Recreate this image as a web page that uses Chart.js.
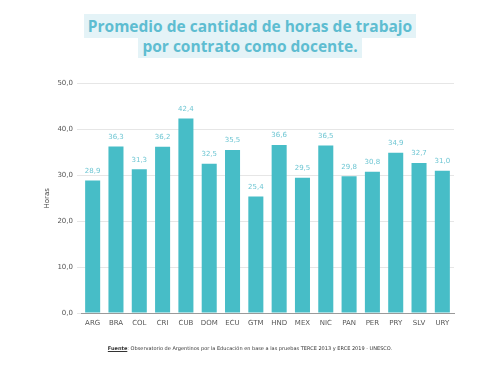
<!DOCTYPE html>
<html><head><meta charset="utf-8">
<script src="https://cdn.jsdelivr.net/npm/chart.js@4"></script>
<style>
html,body{margin:0;padding:0;background:#fff;width:500px;height:375px;overflow:hidden;}
#title{position:absolute;left:0;top:17px;width:500px;text-align:center;font-family:"Open Sans",sans-serif;font-weight:700;font-size:15.5px;line-height:19.5px;color:#5ebdd1;}
#title span{background:#e4f3f7;padding:1px 4px;box-decoration-break:clone;-webkit-box-decoration-break:clone;}
#foot{position:absolute;left:0;top:345px;width:500px;text-align:center;font-family:"DejaVu Sans",sans-serif;font-size:5px;color:#333;}
#foot b{text-decoration:underline;}
#wrap{position:absolute;left:0;top:0;width:500px;height:375px;}
</style></head><body>
<div id="wrap"><canvas id="c" width="500" height="375"></canvas></div>
<div id="title"><span>Promedio de cantidad de horas de trabajo<br>por contrato como docente.</span></div>
<div id="foot"><b>Fuente</b>: Observatorio de Argentinos por la Educación en base a las pruebas TERCE 2013 y ERCE 2019 - UNESCO.</div>
<script>
const categories = ["ARG","BRA","COL","CRI","CUB","DOM","ECU","GTM","HND","MEX","NIC","PAN","PER","PRY","SLV","URY"];
const horas = [28.9,36.3,31.3,36.2,42.4,32.5,35.5,25.4,36.6,29.5,36.5,29.8,30.8,34.9,32.7,31.0];
const yTicks = [0,10,20,30,40,50];

const fmt = v => v.toFixed(1).replace('.', ',');
const valueLabels = {
  id: 'valueLabels',
  afterDatasetsDraw(chart) {
    const ctx = chart.ctx;
    const meta = chart.getDatasetMeta(0);
    ctx.save();
    ctx.font = '7px "DejaVu Sans"';
    ctx.fillStyle = '#6ec6d3';
    ctx.textAlign = 'center';
    ctx.textBaseline = 'bottom';
    meta.data.forEach((bar, i) => {
      ctx.fillText(fmt(horas[i]), bar.x, bar.y - 6);
    });
    ctx.restore();
  }
};

new Chart(document.getElementById('c'), {
  type: 'bar',
  data: {
    labels: categories,
    datasets: [{
      data: horas,
      backgroundColor: '#47bdc7',
      categoryPercentage: 0.645,
      barPercentage: 1.0
    }]
  },
  options: {
    responsive: false,
    animation: false,
    layout: { padding: { top: 83.5, left: 43, right: 46, bottom: 41.5 } },
    plugins: { legend: { display: false }, tooltip: { enabled: false }, title: { display: false } },
    scales: {
      x: {
        grid: { display: false, drawTicks: false },
        border: { display: true, color: '#9a9a9a', width: 1 },
        ticks: { color: '#555', font: { family: 'DejaVu Sans', size: 7 }, padding: 6, maxRotation: 0, autoSkip: false }
      },
      y: {
        min: 0, max: 50,
        afterBuildTicks(axis) { axis.ticks = yTicks.map(v => ({ value: v })); },
        afterFit(axis) { axis.width = 81 - 43; },
        grid: { color: '#e6e6e6', lineWidth: 1, drawTicks: true, tickLength: 4 },
        border: { display: false },
        ticks: { color: '#555', font: { family: 'DejaVu Sans', size: 7 }, padding: 4, callback: v => fmt(v) },
        title: { display: true, text: 'Horas', color: '#444', font: { family: 'DejaVu Sans', size: 7 }, padding: { top: 0, bottom: 4 } }
      }
    }
  },
  plugins: [valueLabels]
});
</script>
</body></html>
